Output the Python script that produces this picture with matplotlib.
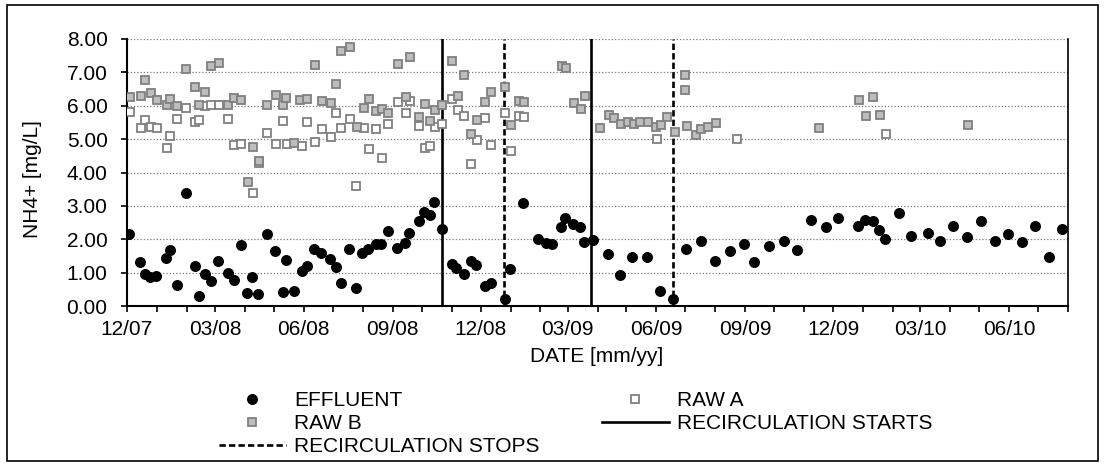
import numpy as np
import pandas as pd
import matplotlib
matplotlib.use("Agg")
import matplotlib.pyplot as plt
import matplotlib.dates as mdates
from matplotlib.patches import Rectangle

plt.rcParams['font.family'] = ['Liberation Sans', 'DejaVu Sans']
plt.rcParams['font.size'] = 15

# effluent NH4+ (mg/L)
eff_dates = ['2007-12-03', '2007-12-14', '2007-12-20', '2007-12-25', '2007-12-31',
             '2008-01-10', '2008-01-15', '2008-01-22', '2008-01-31',
             '2008-02-09', '2008-02-14', '2008-02-20', '2008-02-26',
             '2008-03-04', '2008-03-15', '2008-03-21', '2008-03-28',
             '2008-04-03', '2008-04-08', '2008-04-15', '2008-04-24',
             '2008-05-02', '2008-05-10', '2008-05-14', '2008-05-22', '2008-05-30',
             '2008-06-04', '2008-06-12', '2008-06-19', '2008-06-28',
             '2008-07-04', '2008-07-09', '2008-07-18', '2008-07-25', '2008-07-31',
             '2008-08-06', '2008-08-15', '2008-08-20', '2008-08-27',
             '2008-09-05', '2008-09-14', '2008-09-18', '2008-09-28',
             '2008-10-03', '2008-10-10', '2008-10-14', '2008-10-22',
             '2008-11-01', '2008-11-06', '2008-11-14', '2008-11-21', '2008-11-26',
             '2008-12-06', '2008-12-12', '2008-12-26', '2008-12-31',
             '2009-01-14', '2009-01-29', '2009-02-07', '2009-02-13', '2009-02-22', '2009-02-26',
             '2009-03-07', '2009-03-14', '2009-03-18', '2009-03-27',
             '2009-04-12', '2009-04-24', '2009-05-07', '2009-05-22', '2009-06-05', '2009-06-18',
             '2009-07-02', '2009-07-17', '2009-08-01', '2009-08-16', '2009-08-31',
             '2009-09-10', '2009-09-26', '2009-10-11', '2009-10-25', '2009-11-08', '2009-11-23',
             '2009-12-06', '2009-12-27', '2010-01-03', '2010-01-11', '2010-01-17', '2010-01-24',
             '2010-02-07', '2010-02-20', '2010-03-09', '2010-03-22', '2010-04-04', '2010-04-18',
             '2010-05-03', '2010-05-17', '2010-05-31', '2010-06-14', '2010-06-28', '2010-07-12', '2010-07-26']
eff_vals = [2.15, 1.31, 0.95, 0.88, 0.90,
            1.43, 1.68, 0.63, 3.38,
            1.21, 0.31, 0.95, 0.74,
            1.36, 0.98, 0.79, 1.82,
            0.38, 0.87, 0.36, 2.15,
            1.65, 0.43, 1.37, 0.46, 1.05,
            1.21, 1.71, 1.58, 1.42,
            1.18, 0.68, 1.71, 0.53, 1.60,
            1.70, 1.85, 1.86, 2.26,
            1.73, 1.90, 2.18, 2.56,
            2.82, 2.72, 3.11, 2.32,
            1.25, 1.13, 0.95, 1.36, 1.22,
            0.60, 0.68, 0.20, 1.10,
            3.09, 2.00, 1.88, 1.85, 2.36, 2.65,
            2.45, 2.36, 1.91, 1.98,
            1.56, 0.93, 1.46, 1.46, 0.45, 0.20,
            1.71, 1.96, 1.35, 1.66, 1.86,
            1.31, 1.79, 1.95, 1.69, 2.57, 2.36,
            2.65, 2.41, 2.58, 2.54, 2.28, 2.00,
            2.78, 2.10, 2.20, 1.96, 2.40, 2.08,
            2.54, 1.94, 2.15, 1.91, 2.40, 1.46, 2.32]

# raw A (open squares)
rawa_dates = ['2007-12-04', '2007-12-15', '2007-12-20', '2007-12-26', '2008-01-01', '2008-01-11',
              '2008-01-15', '2008-01-22', '2008-01-31', '2008-02-09', '2008-02-14', '2008-02-20',
              '2008-02-26', '2008-03-05', '2008-03-15', '2008-03-21', '2008-03-28', '2008-04-09',
              '2008-04-16', '2008-04-24', '2008-05-03', '2008-05-10', '2008-05-15', '2008-05-30',
              '2008-06-04', '2008-06-13', '2008-06-20', '2008-06-29', '2008-07-04', '2008-07-09',
              '2008-07-19', '2008-07-25', '2008-08-02', '2008-08-07', '2008-08-15', '2008-08-21',
              '2008-08-27', '2008-09-07', '2008-09-15', '2008-09-19', '2008-09-28', '2008-10-04',
              '2008-10-10', '2008-10-15', '2008-10-22', '2008-11-01', '2008-11-08', '2008-11-14',
              '2008-11-21', '2008-11-27', '2008-12-06', '2008-12-12', '2008-12-26', '2009-01-01',
              '2009-01-10', '2009-01-15', '2009-06-02', '2009-08-23', '2010-01-25']
rawa_vals = [5.81, 5.32, 5.57, 5.37, 5.32, 4.74, 5.09, 5.59, 5.94, 5.51, 5.57, 5.99,
             6.02, 6.03, 5.61, 4.83, 4.84, 3.38, 4.28, 5.17, 4.86, 5.55, 4.85, 4.78,
             5.51, 4.90, 5.29, 5.06, 5.77, 5.32, 5.59, 3.60, 5.34, 4.71, 5.31, 4.42,
             5.45, 6.12, 5.79, 6.14, 5.39, 4.72, 4.80, 5.37, 5.44, 6.21, 5.87, 5.69,
             4.25, 4.96, 5.64, 4.83, 5.79, 4.63, 5.69, 5.65, 5.00, 5.00, 5.15]

# raw B (grey squares)
rawb_dates = ['2007-12-04', '2007-12-15', '2007-12-20', '2007-12-26', '2008-01-01', '2008-01-11',
              '2008-01-15', '2008-01-22', '2008-01-31', '2008-02-09', '2008-02-14', '2008-02-20',
              '2008-02-26', '2008-03-05', '2008-03-15', '2008-03-21', '2008-03-28', '2008-04-04',
              '2008-04-09', '2008-04-16', '2008-04-24', '2008-05-03', '2008-05-10', '2008-05-14',
              '2008-05-22', '2008-05-28', '2008-06-04', '2008-06-13', '2008-06-20', '2008-06-29',
              '2008-07-04', '2008-07-09', '2008-07-19', '2008-07-26', '2008-08-02', '2008-08-07',
              '2008-08-15', '2008-08-21', '2008-08-27', '2008-09-07', '2008-09-15', '2008-09-19',
              '2008-09-28', '2008-10-04', '2008-10-10', '2008-10-15', '2008-10-22', '2008-11-01',
              '2008-11-08', '2008-11-14', '2008-11-21', '2008-11-27', '2008-12-06', '2008-12-12',
              '2008-12-26', '2009-01-01', '2009-01-10', '2009-01-15', '2009-02-23', '2009-02-27',
              '2009-03-08', '2009-03-15', '2009-03-19', '2009-04-04', '2009-04-13', '2009-04-18',
              '2009-04-25', '2009-05-03', '2009-05-09', '2009-05-15', '2009-05-23', '2009-06-01',
              '2009-06-06', '2009-06-12', '2009-06-20', '2009-07-01', '2009-07-01', '2009-07-03',
              '2009-07-12', '2009-07-17', '2009-07-24', '2009-08-02', '2009-11-16', '2009-12-28',
              '2010-01-04', '2010-01-11', '2010-01-18', '2010-04-19']
rawb_vals = [6.27, 6.30, 6.77, 6.37, 6.17, 6.02, 6.19, 5.99, 7.10, 6.55, 6.02, 6.41,
             7.20, 7.27, 6.02, 6.22, 6.16, 3.73, 4.77, 4.35, 6.03, 6.31, 6.02, 6.22,
             4.88, 6.17, 6.19, 7.22, 6.14, 6.07, 6.65, 7.64, 7.77, 5.37, 5.94, 6.19,
             5.84, 5.90, 5.78, 7.24, 6.27, 7.45, 5.67, 6.05, 5.55, 5.87, 6.01, 7.33,
             6.30, 6.93, 5.15, 5.58, 6.10, 6.42, 6.56, 5.42, 6.14, 6.11, 7.19, 7.14,
             6.07, 5.89, 6.29, 5.33, 5.72, 5.62, 5.44, 5.51, 5.44, 5.50, 5.50, 5.37,
             5.42, 5.65, 5.22, 6.92, 6.47, 5.40, 5.12, 5.31, 5.35, 5.47, 5.34, 6.16,
             5.69, 6.25, 5.73, 5.41]

recirc_starts = ['2008-10-22', '2009-03-25']
recirc_stops = ['2008-12-25', '2009-06-18']

x_start, x_end = '2007-12-01', '2010-08-01'

W, H = 1105, 466
fig = plt.figure(figsize=(W / 100, H / 100), dpi=100)
ax = fig.add_axes([127 / W, 1 - 306 / H, 941 / W, 267 / H])

# series
eff, = ax.plot(pd.to_datetime(eff_dates), eff_vals, 'o', ms=6.9, color='black',
               label='EFFLUENT', zorder=3)
rawa, = ax.plot(pd.to_datetime(rawa_dates), rawa_vals, 's', ms=5.1, mfc='white',
                mec='#808080', mew=1.3, label='RAW A', zorder=3)
rawb, = ax.plot(pd.to_datetime(rawb_dates), rawb_vals, 's', ms=5.1, mfc='#bdbdbd',
                mec='#808080', mew=1.3, label='RAW B', zorder=3)

for i, d in enumerate(recirc_starts):
    ln = ax.axvline(pd.Timestamp(d), color='black', lw=1.9, zorder=2)
    if i == 0:
        starts_line = ln
for i, d in enumerate(recirc_stops):
    ln = ax.axvline(pd.Timestamp(d), color='black', lw=1.9, ls=(0, (2.4, 1.2)), zorder=2)
    if i == 0:
        stops_line = ln

ax.set_xlim(pd.Timestamp(x_start), pd.Timestamp(x_end))
ax.set_ylim(0, 8)
ax.set_yticks(np.arange(0, 9, 1))
ax.yaxis.set_major_formatter(plt.FormatStrFormatter('%.2f'))
ax.yaxis.grid(True, linestyle=(0, (1, 1.6)), color='#7a7a7a', lw=0.9)
ax.set_axisbelow(True)

ax.xaxis.set_major_locator(mdates.MonthLocator(bymonth=[3, 6, 9, 12]))
ax.xaxis.set_minor_locator(mdates.MonthLocator())
ax.xaxis.set_major_formatter(mdates.DateFormatter('%m/%y'))

ax.spines['top'].set_visible(False)
for s in ['left', 'bottom']:
    ax.spines[s].set_linewidth(1.5)
ax.spines['right'].set_linewidth(1.2)
ax.tick_params(axis='y', direction='out', length=4, width=1.2, pad=10)
ax.tick_params(axis='x', which='both', direction='out', length=4, width=1.2, pad=6)

fig.text(33 / W, 1 - 179 / H, 'NH4+ [mg/L]', rotation=90, ha='center', va='center')
fig.text(597 / W, 1 - 357 / H, 'DATE [mm/yy]', ha='center', va='center')

handles = [eff, rawb, stops_line, rawa, starts_line]
labels = ['EFFLUENT', 'RAW B', 'RECIRCULATION STOPS', 'RAW A', 'RECIRCULATION STARTS']
fig.legend(handles, labels, ncol=2, loc='upper left', bbox_to_anchor=(219 / W, 1 - 391 / H),
           frameon=False, borderpad=0, borderaxespad=0, labelspacing=0.2,
           handlelength=3.2, handletextpad=0.4, columnspacing=3.0)

fig.patches.append(Rectangle((7 / W, 1 - 461 / H), (1098 - 7) / W, (461 - 5) / H,
                             transform=fig.transFigure, fill=False, ec='black', lw=1.2))

fig.savefig('out.png', dpi=100)
